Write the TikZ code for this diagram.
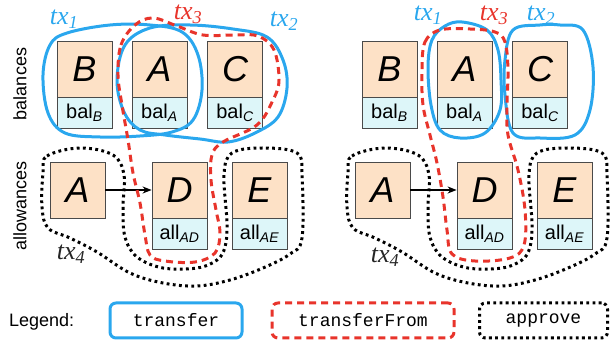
\documentclass[tikz,border=0pt]{standalone}
\usepackage{fontspec}
\setmainfont{Liberation Sans}
\setmonofont{Liberation Mono}
\newfontfamily\txfont{Liberation Serif}
\usetikzlibrary{arrows.meta}
\definecolor{txblue}{HTML}{2AA7EE}
\definecolor{txred}{HTML}{E8342B}
\definecolor{boxor}{HTML}{FDE1C6}
\definecolor{boxbl}{HTML}{DDF6F9}
\definecolor{boxline}{HTML}{4A4A4A}
\newcommand{\txl}[1]{tx\textsubscript{#1}}
\tikzset{
  letterbox/.style={draw=boxline, line width=0.8pt, fill=boxor, minimum width=55pt, minimum height=56pt, inner sep=0pt, font=\fontsize{36}{40}\selectfont\itshape},
  valbox/.style={draw=boxline, line width=0.8pt, fill=boxbl, minimum width=55pt, minimum height=31pt, inner sep=0pt, font=\fontsize{20}{24}\selectfont},
  tfer/.style={draw=txblue, line width=3pt},
  tfrom/.style={draw=txred, line width=3pt, dash pattern=on 7pt off 5pt},
  appr/.style={draw=black, line width=3pt, dash pattern=on 2.8pt off 3.4pt},
  blob/.style={smooth cycle, tension=0.6},
  txlab/.style={inner sep=0pt, font=\txfont\fontsize{26}{28}\selectfont\itshape},
  sidelab/.style={rotate=90, inner sep=0pt, font=\fontsize{18}{20}\selectfont},
  legbox/.style={rounded corners=6pt, minimum height=35pt, inner sep=0pt, font=\ttfamily\fontsize{18}{20}\selectfont},
}
\begin{document}
\begin{tikzpicture}[x=1pt, y=-1pt]
\useasboundingbox (0,0) rectangle (611,344);
\foreach \p/\s in {L/0, R/305}{
  \begin{scope}[xshift=\s pt, name prefix=\p-]
    \node[letterbox] (lB) at (84.5,69.5) {B};
    \node[valbox]    (bB) at (84.5,113) {bal\textsubscript{\itshape B}};
    \node[letterbox] (lA) at (159.5,69.5) {A};
    \node[valbox]    (bA) at (159.5,113) {bal\textsubscript{\itshape A}};
    \node[letterbox] (lC) at (235,69.5) {C};
    \node[valbox]    (bC) at (235,113) {bal\textsubscript{\itshape C}};
    \node[letterbox] (aA) at (77.5,190) {A};
    \node[letterbox] (aD) at (179.5,190) {D};
    \node[valbox]    (vD) at (179.5,233.5) {all\textsubscript{\itshape AD}};
    \node[letterbox] (aE) at (259.5,190) {E};
    \node[valbox]    (vE) at (259.5,233.5) {all\textsubscript{\itshape AE}};
    \draw[-{Stealth[length=9pt,width=7pt]}, line width=1.6pt] (aA) -- (aD);
    \draw[appr] plot[blob] coordinates {(43,173) (47,156) (80,148) (113,155) (124,175) (123,207) (125,237) (137,257) (163,268) (197,268) (217,260) (225,247) (227,223) (224,175) (232,153) (263,148) (297,153) (302,175) (302,238) (290,254) (263,268) (230,280) (197,286) (163,283) (130,273) (97,252) (70,238) (48,228) (42,207)};
  \end{scope}
}
% left panel blobs
\draw[tfer] plot[blob] coordinates {(43,75) (50,45) (67,33) (110,25) (150,25) (182,32) (198,55) (202,90) (193,120) (172,132) (140,136) (100,137) (65,133) (48,113)};
\draw[tfer] plot[blob] coordinates {(117,80) (125,45) (150,28) (190,25) (233,29) (267,37) (283,60) (287,88) (278,117) (255,133) (228,142) (200,139) (165,135) (140,130) (124,112)};
\draw[tfrom] plot[blob] coordinates {(118,75) (121,45) (135,25) (153,18) (177,26) (203,35) (235,35) (258,36) (274,50) (279,80) (273,100) (257,125) (223,142) (212,155) (211,180) (216,210) (220,233) (215,253) (195,262) (165,261) (150,255) (145,235) (140,203) (133,173) (128,140) (122,105)};
% right panel blobs
\draw[tfer] plot[blob] coordinates {(428,67) (432,40) (445,26) (462,22) (487,30) (498,50) (501,80) (500,110) (485,133) (460,138) (440,130) (431,105)};
\draw[tfer] plot[blob] coordinates {(505,60) (513,30) (540,25) (560,25) (583,30) (593,67) (590,110) (575,135) (540,138) (513,133) (505,95)};
\draw[tfrom] plot[blob] coordinates {(422,70) (425,42) (440,30) (470,29) (495,32) (505,42) (508,70) (507,105) (508,135) (518,170) (525,210) (524,245) (510,258) (475,261) (452,254) (447,230) (443,197) (437,163) (430,135) (423,105)};
% labels
\node[txlab, text=txblue] (t1L) at (64,19) {\txl{1}};
\node[txlab, text=txred]  (t3L) at (188,14) {\txl{3}};
\node[txlab, text=txblue] (t2L) at (284,21) {\txl{2}};
\node[txlab, text=black!85] (t4L) at (71,254) {\txl{4}};
\node[txlab, text=txblue] (t1R) at (428,15) {\txl{1}};
\node[txlab, text=txred]  (t3R) at (494,15) {\txl{3}};
\node[txlab, text=txblue] (t2R) at (541,15) {\txl{2}};
\node[txlab, text=black!85] (t4R) at (385,257) {\txl{4}};
\node[sidelab] (sbal) at (20,84) {balances};
\node[sidelab] (sall) at (20,206) {allowances};
% legend
\node[anchor=west, inner sep=0pt, font=\fontsize{18}{20}\selectfont] (leg) at (9,322) {Legend:};
\node[legbox, tfer, minimum width=132pt] (lg1) at (176,320.5) {transfer};
\node[legbox, tfrom, minimum width=182pt] (lg2) at (363,320.5) {transferFrom};
\node[legbox, appr, minimum width=128pt] (lg3) at (543.5,320.5) {approve};
\end{tikzpicture}
\end{document}
